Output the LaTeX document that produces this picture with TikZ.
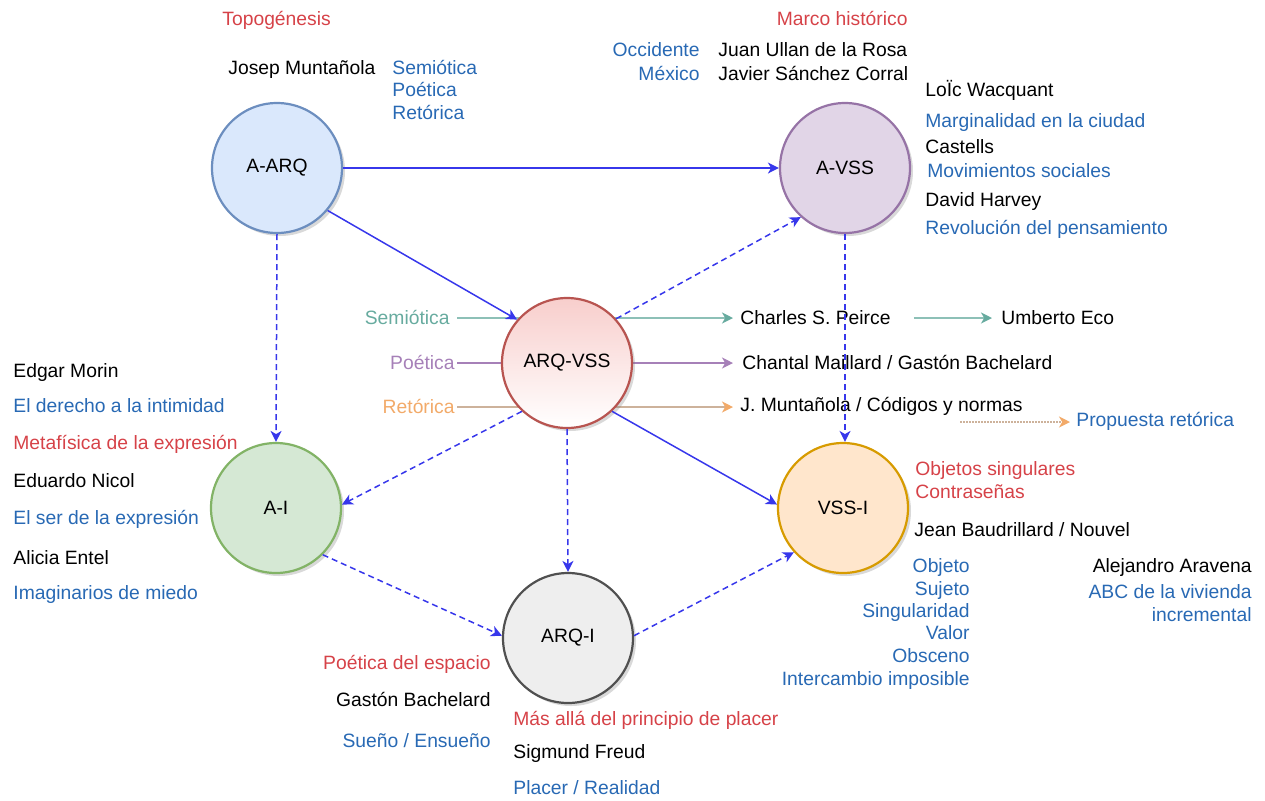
\documentclass[tikz,border=0pt]{standalone}
\usepackage{fontspec}
\setmainfont{Liberation Sans}
\usetikzlibrary{arrows.meta,shadows}
\definecolor{tred}{RGB}{214,66,72}
\definecolor{tblue}{RGB}{40,105,180}
\definecolor{eblue}{RGB}{55,55,235}
\definecolor{sgreen}{RGB}{103,171,159}
\definecolor{ppurple}{RGB}{166,128,184}
\definecolor{rorange}{RGB}{242,170,105}
\definecolor{rline}{RGB}{205,178,155}
\begin{document}
\begin{tikzpicture}[x=0.5pt,y=-0.5pt,
  font=\fontsize{9.65}{11}\selectfont,
  tl/.style={inner sep=0pt, anchor=west, text height=6.9pt, text depth=0pt},
  tr/.style={inner sep=0pt, anchor=east, text height=6.9pt, text depth=0pt},
  circ/.style={circle, minimum size=65pt, inner sep=0pt, line width=1.1pt,
    drop shadow={shadow xshift=1.5pt, shadow yshift=-1.5pt, opacity=0.3}},
  edge/.style={draw=eblue, line width=0.75pt, -{Stealth[length=5.5pt,width=5.5pt,inset=1.6pt]}},
  dedge/.style={edge, dash pattern=on 3pt off 2pt},
  tip/.style={-{Stealth[length=5.5pt,width=5.5pt,inset=1.6pt,#1]}}
]
\useasboundingbox (0,0) rectangle (1265,800);

% ---------- text nodes ----------
\node[tl, text=tred] (topo) at (222,19) {Topogénesis};
\node[tl] (josep) at (228,68) {Josep Muntañola};
\node[tl, text=tblue] (sem1) at (392,68) {Semiótica};
\node[tl, text=tblue] (poe1) at (392,90) {Poética};
\node[tl, text=tblue] (ret1) at (392,113) {Retórica};

\node[tr, text=tred] (marco) at (908,19) {Marco histórico};
\node[tr, text=tblue] (occ) at (700,50) {Occidente};
\node[tr, text=tblue] (mex) at (700,74) {México};
\node[tl] (ullan) at (718,50) {Juan Ullan de la Rosa};
\node[tl] (javier) at (718,74) {Javier Sánchez Corral};

\node[tl] (loic) at (925,90) {LoÏc Wacquant};
\node[tl, text=tblue] (marg) at (925,121) {Marginalidad en la ciudad};
\node[tl] (cast) at (925,147) {Castells};
\node[tl, text=tblue] (movi) at (927,171) {Movimientos sociales};
\node[tl] (harvey) at (925,200) {David Harvey};
\node[tl, text=tblue] (revo) at (925,228) {Revolución del pensamiento};

\node[tl] (morin) at (13,371) {Edgar Morin};
\node[tl, text=tblue] (dere) at (13,406) {El derecho a la intimidad};
\node[tl, text=tred] (meta) at (13,443) {Metafísica de la expresión};
\node[tl] (nicol) at (13,481) {Eduardo Nicol};
\node[tl, text=tblue] (ser) at (13,518) {El ser de la expresión};
\node[tl] (entel) at (13,558) {Alicia Entel};
\node[tl, text=tblue] (imag) at (13,593) {Imaginarios de miedo};

\node[tr, text=sgreen] (semL) at (450,318) {Semiótica};
\node[tr, text=ppurple] (poeL) at (455,363) {Poética};
\node[tr, text=rorange] (retL) at (455,407) {Retórica};
\node[tl] (peirce) at (740,318) {Charles S. Peirce};
\node[tl] (eco) at (1001,318) {Umberto Eco};
\node[tl] (chantal) at (742,363) {Chantal Maillard / Gastón Bachelard};
\node[tl] (jmun) at (740,405) {J. Muntañola / Códigos y normas};
\node[tl, text=tblue] (prop) at (1076,420) {Propuesta retórica};
\coordinate (propstart) at (960,422);

\node[tr, text=tred] (poesp) at (491,663) {Poética del espacio};
\node[tr] (bach) at (491,700) {Gastón Bachelard};
\node[tr, text=tblue] (suen) at (491,741) {Sueño / Ensueño};
\node[tl, text=tred] (mas) at (513,719) {Más allá del principio de placer};
\node[tl] (freud) at (513,752) {Sigmund Freud};
\node[tl, text=tblue] (plac) at (513,788) {Placer / Realidad};

\node[tl, text=tred] (objs) at (915,469) {Objetos singulares};
\node[tl, text=tred] (contr) at (915,492) {Contraseñas};
\node[tl] (baud) at (914,530) {Jean Baudrillard / Nouvel};
\node[tr, text=tblue] (obj) at (970,566) {Objeto};
\node[tr, text=tblue] (suj) at (970,589) {Sujeto};
\node[tr, text=tblue] (sing) at (970,611) {Singularidad};
\node[tr, text=tblue] (val) at (970,633) {Valor};
\node[tr, text=tblue] (obsc) at (970,656) {Obsceno};
\node[tr, text=tblue] (inter) at (970,679) {Intercambio imposible};
\node[tr] (arav) at (1252,566) {Alejandro Aravena};
\node[tr, text=tblue] (abc) at (1252,592) {ABC de la vivienda};
\node[tr, text=tblue] (incr) at (1252,615) {incremental};

% ---------- coloured lines (behind ARQ-VSS) ----------
\draw[draw=sgreen!75, line width=0.75pt, tip={sgreen}, shorten <=3.5pt, shorten >=3.5pt] (semL.east) -- (peirce.west);
\draw[draw=ppurple, line width=0.75pt, tip={ppurple}, shorten <=1pt, shorten >=4.5pt] (poeL.east) -- (chantal.west);
\draw[draw=rline, line width=0.75pt, tip={rorange}, shorten <=1pt, shorten >=3.5pt] (retL.east) -- (retL.east -| jmun.west);
\draw[draw=sgreen!75, line width=0.75pt, tip={sgreen}, shorten <=11.5pt, shorten >=4.5pt] (peirce.east) -- (eco.west);
\draw[draw=rline, line width=0.75pt, dash pattern=on 1pt off 0.5pt, tip={rorange}, shorten >=3pt] (propstart) -- (propstart -| prop.west);

% ---------- circles ----------
\node[circ, fill={rgb,255:red,218;green,232;blue,252}, draw={rgb,255:red,108;green,142;blue,191}] (aarq) at (277,168) {A-ARQ};
\node[circ, fill={rgb,255:red,225;green,213;blue,231}, draw={rgb,255:red,150;green,115;blue,166}] (avss) at (845,168) {A-VSS};
\node[circ, top color={rgb,255:red,248;green,206;blue,204}, bottom color=white, draw={rgb,255:red,184;green,84;blue,80}] (arqvss) at (567,363) {ARQ-VSS};
\node[circ, fill={rgb,255:red,213;green,232;blue,212}, draw={rgb,255:red,130;green,179;blue,102}] (ai) at (276,508) {A-I};
\node[circ, fill={rgb,255:red,255;green,230;blue,204}, draw={rgb,255:red,215;green,155;blue,0}] (vssi) at (843,508) {VSS-I};
\node[circ, fill={rgb,255:red,238;green,238;blue,238}, draw={rgb,255:red,80;green,80;blue,80}] (arqi) at (568,638) {ARQ-I};

% ---------- connectors ----------
\draw[edge] (aarq.east) -- (avss.west);
\draw[edge] (aarq.-40) -- (arqvss.139);
\draw[dedge] (aarq.south) -- (ai.north);
\draw[dedge] (arqvss.42) -- (avss.228);
\draw[dedge] (avss.south) -- (avss.south |- vssi.north);
\draw[dedge] (arqvss.227) -- (ai.3);
\draw[dedge] (arqvss.south) -- (arqi.north);
\draw[edge] (arqvss.-47) -- (vssi.177);
\draw[dedge] (ai.-45) -- (arqi.178);
\draw[dedge] (arqi.2) -- (vssi.222);
\end{tikzpicture}
\end{document}
